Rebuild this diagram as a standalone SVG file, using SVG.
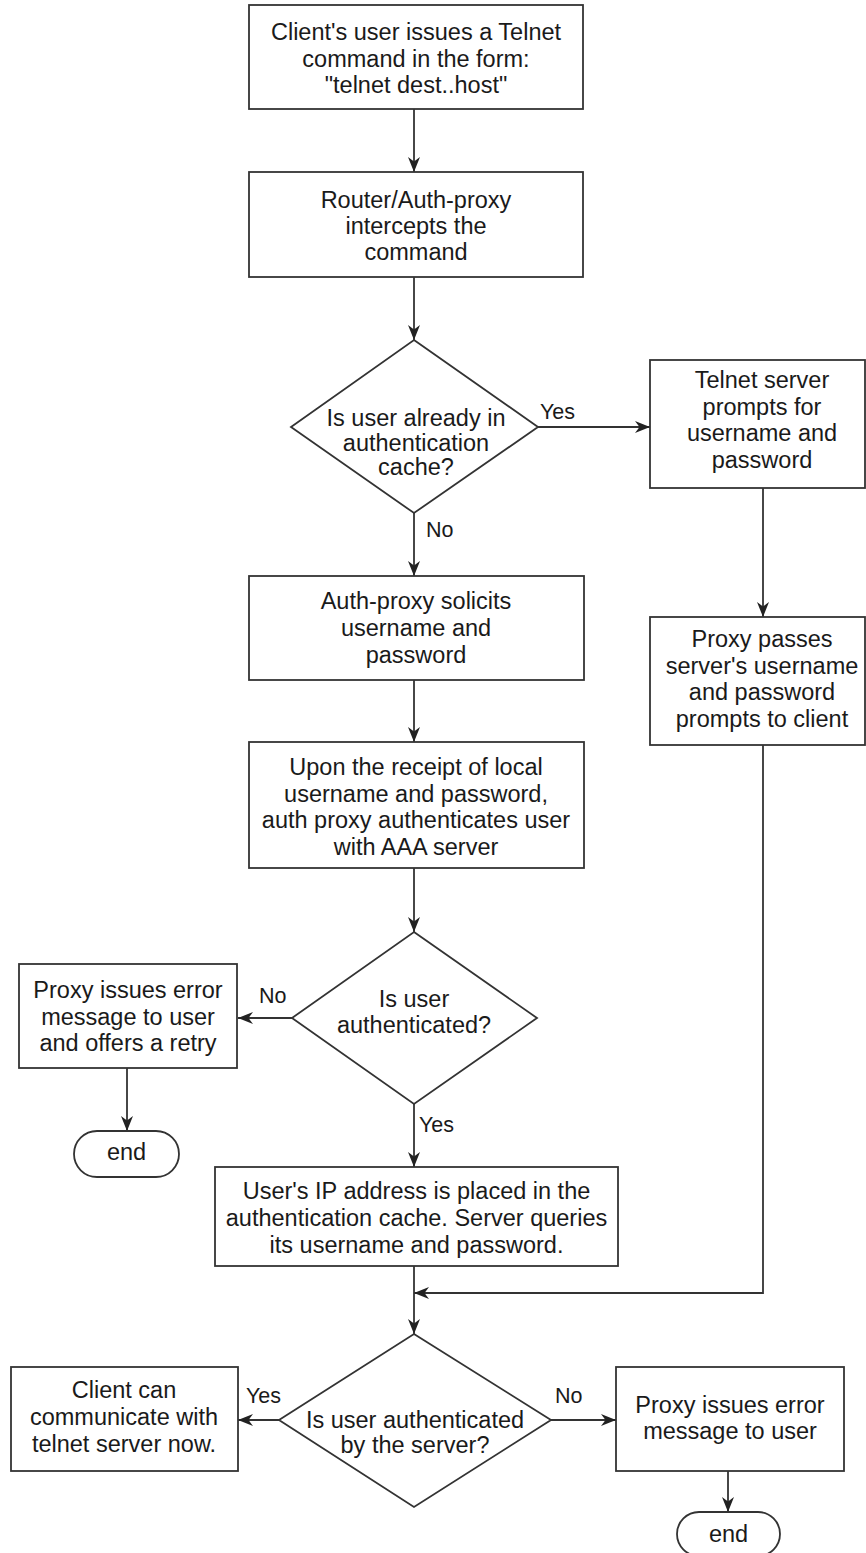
<svg xmlns="http://www.w3.org/2000/svg" width="866" height="1553" viewBox="0 0 866 1553">
<defs>
<marker id="arr" markerUnits="userSpaceOnUse" markerWidth="16" markerHeight="13" refX="15" refY="6" orient="auto">
<path d="M0,0 L15,6 L0,12 L4.5,6 Z" fill="#222"/>
</marker>
<style>
.n{fill:#fff;stroke:#333;stroke-width:1.8}
.t{font-family:"Liberation Sans",Arial,sans-serif;font-size:23.5px;fill:#1a1a1a;text-anchor:middle}
.l{font-family:"Liberation Sans",Arial,sans-serif;font-size:21.5px;fill:#1a1a1a}
.c{fill:none;stroke:#333;stroke-width:1.8}
</style>
</defs>
<rect width="866" height="1553" fill="#fff"/>
<g id="connectors">
<line class="c" x1="414" y1="109" x2="414" y2="172" marker-end="url(#arr)"/>
<line class="c" x1="414" y1="277" x2="414" y2="340" marker-end="url(#arr)"/>
<line class="c" x1="538" y1="427" x2="650" y2="427" marker-end="url(#arr)"/>
<line class="c" x1="414" y1="513" x2="414" y2="576" marker-end="url(#arr)"/>
<line class="c" x1="763" y1="488" x2="763" y2="617" marker-end="url(#arr)"/>
<line class="c" x1="414" y1="680" x2="414" y2="742" marker-end="url(#arr)"/>
<line class="c" x1="414" y1="868" x2="414" y2="932" marker-end="url(#arr)"/>
<line class="c" x1="292" y1="1018" x2="238" y2="1018" marker-end="url(#arr)"/>
<line class="c" x1="127" y1="1068" x2="127" y2="1131" marker-end="url(#arr)"/>
<line class="c" x1="414" y1="1104" x2="414" y2="1167" marker-end="url(#arr)"/>
<line class="c" x1="414" y1="1266" x2="414" y2="1334" marker-end="url(#arr)"/>
<polyline class="c" points="763,745 763,1293 414,1293" marker-end="url(#arr)"/>
<line class="c" x1="279" y1="1420" x2="238" y2="1420" marker-end="url(#arr)"/>
<line class="c" x1="551" y1="1420" x2="616" y2="1420" marker-end="url(#arr)"/>
<line class="c" x1="728" y1="1471" x2="728" y2="1512" marker-end="url(#arr)"/>
<text class="l" x="540" y="419">Yes</text>
<text class="l" x="426" y="537">No</text>
<text class="l" x="259" y="1003">No</text>
<text class="l" x="419" y="1132">Yes</text>
<text class="l" x="246" y="1403">Yes</text>
<text class="l" x="555" y="1403">No</text>
</g>
<g id="n1">
<rect class="n" x="249" y="5" width="334" height="104"/>
<text class="t" x="416" y="40">Client's user issues a Telnet</text>
<text class="t" x="416" y="66.5">command in the form:</text>
<text class="t" x="416" y="93">"telnet dest..host"</text>
</g>
<g id="n2">
<rect class="n" x="249" y="172" width="334" height="105"/>
<text class="t" x="416" y="208">Router/Auth-proxy</text>
<text class="t" x="416" y="234">intercepts the</text>
<text class="t" x="416" y="260">command</text>
</g>
<g id="d1">
<polygon class="n" points="414,340 538,427 414,513 291,427"/>
<text class="t" x="416" y="426">Is user already in</text>
<text class="t" x="416" y="451">authentication</text>
<text class="t" x="416" y="475">cache?</text>
</g>
<g id="n3">
<rect class="n" x="650" y="360" width="215" height="128"/>
<text class="t" x="762" y="388">Telnet server</text>
<text class="t" x="762" y="414.5">prompts for</text>
<text class="t" x="762" y="441">username and</text>
<text class="t" x="762" y="467.5">password</text>
</g>
<g id="n4">
<rect class="n" x="249" y="576" width="335" height="104"/>
<text class="t" x="416" y="609">Auth-proxy solicits</text>
<text class="t" x="416" y="636">username and</text>
<text class="t" x="416" y="663">password</text>
</g>
<g id="n5">
<rect class="n" x="650" y="617" width="215" height="128"/>
<text class="t" x="762" y="647">Proxy passes</text>
<text class="t" x="762" y="673.5">server's username</text>
<text class="t" x="762" y="700">and password</text>
<text class="t" x="762" y="726.5">prompts to client</text>
</g>
<g id="n6">
<rect class="n" x="249" y="742" width="335" height="126"/>
<text class="t" x="416" y="775">Upon the receipt of local</text>
<text class="t" x="416" y="801.5">username and password,</text>
<text class="t" x="416" y="828">auth proxy authenticates user</text>
<text class="t" x="416" y="854.5">with AAA server</text>
</g>
<g id="d2">
<polygon class="n" points="414,932 537,1018 414,1104 292,1018"/>
<text class="t" x="414" y="1007">Is user</text>
<text class="t" x="414" y="1033">authenticated?</text>
</g>
<g id="n7">
<rect class="n" x="19" y="964" width="218" height="104"/>
<text class="t" x="128" y="998">Proxy issues error</text>
<text class="t" x="128" y="1024.5">message to user</text>
<text class="t" x="128" y="1051">and offers a retry</text>
</g>
<g id="e1">
<rect class="n" x="74" y="1131" width="105" height="46" rx="23" ry="23"/>
<text class="t" x="126.5" y="1160">end</text>
</g>
<g id="n8">
<rect class="n" x="215" y="1167" width="403" height="99"/>
<text class="t" x="416.5" y="1199">User's IP address is placed in the</text>
<text class="t" x="416.5" y="1226">authentication cache. Server queries</text>
<text class="t" x="416.5" y="1252.5">its username and password.</text>
</g>
<g id="d3">
<polygon class="n" points="414,1334 551,1420 414,1507 279,1420"/>
<text class="t" x="415" y="1428">Is user authenticated</text>
<text class="t" x="415" y="1453">by the server?</text>
</g>
<g id="n9">
<rect class="n" x="11" y="1367" width="227" height="104"/>
<text class="t" x="124" y="1398">Client can</text>
<text class="t" x="124" y="1425">communicate with</text>
<text class="t" x="124" y="1452">telnet server now.</text>
</g>
<g id="n10">
<rect class="n" x="616" y="1367" width="228" height="104"/>
<text class="t" x="730" y="1413">Proxy issues error</text>
<text class="t" x="730" y="1439">message to user</text>
</g>
<g id="e2">
<rect class="n" x="677" y="1512" width="103" height="44" rx="22" ry="22"/>
<text class="t" x="728.5" y="1542">end</text>
</g>
</svg>
